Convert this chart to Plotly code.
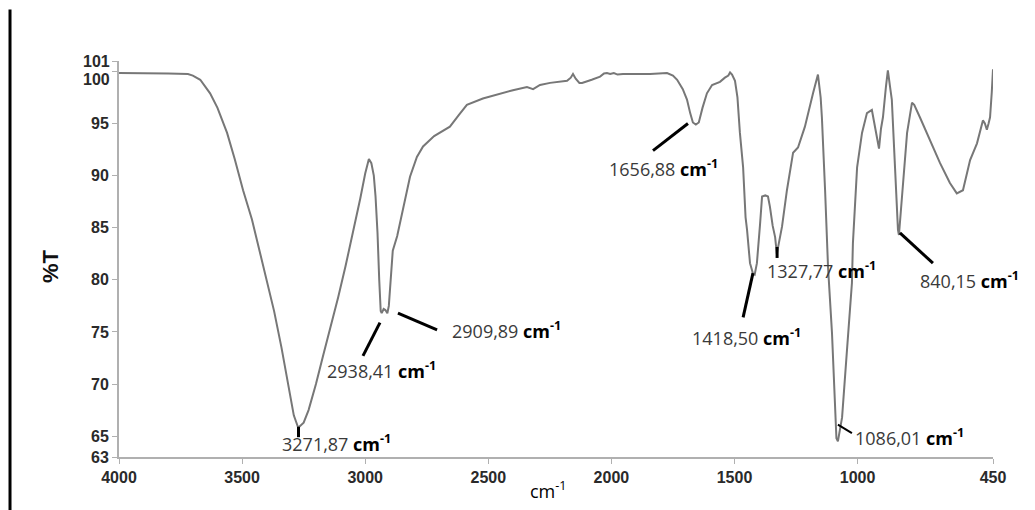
import plotly.graph_objects as go

# ---- data ----
wavenumber = [4000, 3850, 3800, 3720, 3700, 3670, 3630, 3600, 3561, 3530, 3496, 3460, 3427, 3400,
              3370, 3340, 3310, 3290, 3272, 3250, 3230, 3200, 3170, 3140, 3110, 3080, 3050, 3020,
              3000, 2985, 2975, 2965, 2958, 2950, 2943, 2937, 2933, 2925, 2918, 2910, 2904, 2897,
              2888, 2870, 2846, 2818, 2790, 2765, 2720, 2656, 2620, 2587, 2522, 2452, 2400, 2343,
              2318, 2290, 2249, 2180, 2165, 2156, 2145, 2130, 2119, 2080, 2046, 2030, 2018, 2005,
              1990, 1975, 1953, 1843, 1774, 1750, 1733, 1710, 1693, 1680, 1669, 1657, 1645, 1630,
              1612, 1591, 1559, 1539, 1525, 1518, 1510, 1498, 1488, 1478, 1470, 1465, 1455, 1449,
              1437, 1425, 1418, 1409, 1396, 1388, 1375, 1364, 1356, 1345, 1335, 1328, 1320, 1307,
              1287, 1262, 1242, 1214, 1181, 1161, 1150, 1145, 1132, 1120, 1104, 1092, 1086, 1080,
              1070, 1063, 1043, 1023, 1019, 1002, 982, 962, 942, 930, 918, 913, 905, 897, 885, 877,
              868, 861, 848, 840, 836, 832, 825, 816, 799, 779, 770, 747, 706, 665, 625, 597, 572,
              543, 515, 491, 483, 475, 468, 462, 455, 450]
transmittance = [99.85, 99.85, 99.8, 99.75, 99.6, 99.2, 97.9, 96.5, 94.1, 91.6, 88.6, 85.8, 82.5, 80.0,
                 77.0, 73.5, 69.5, 67.0, 65.8, 66.3, 67.5, 70.0, 72.8, 75.5, 78.3, 81.3, 84.5, 87.8,
                 90.2, 91.6, 91.2, 90.0, 88.0, 84.5, 80.0, 77.0, 76.8, 77.2, 77.1, 76.8, 77.5, 80.0,
                 82.8, 84.2, 86.7, 89.9, 91.8, 92.8, 93.8, 94.7, 95.8, 96.8, 97.4, 97.9, 98.2, 98.5,
                 98.3, 98.7, 98.9, 99.1, 99.4, 99.75, 99.3, 98.9, 98.9, 99.2, 99.5, 99.8, 99.85, 99.75,
                 99.85, 99.7, 99.75, 99.75, 99.85, 99.6, 99.2, 98.3, 97.3, 96.0, 95.1, 94.9, 95.1, 96.5,
                 97.9, 98.7, 99.0, 99.4, 99.6, 99.9, 99.7, 99.1, 97.5, 94.1, 92.0, 90.8, 86.0, 84.8,
                 81.6, 80.6, 80.5, 81.6, 85.4, 88.0, 88.1, 88.0, 87.0, 85.2, 84.1, 82.5, 83.5, 85.1,
                 88.6, 92.2, 92.7, 94.7, 97.9, 99.7, 97.5, 95.6, 88.6, 81.2, 74.9, 68.5, 64.8, 64.5,
                 66.0, 66.8, 73.3, 79.7, 83.5, 90.8, 94.1, 96.0, 96.3, 94.7, 93.0, 92.6, 94.5, 95.6, 98.5, 100.1,
                 98.5, 97.3, 90.8, 85.5, 84.8, 84.3, 86.5, 89.3, 94.1, 97.0, 96.8, 95.6, 93.4, 91.2, 89.3, 88.3, 88.6,
                 91.5, 93.1, 95.3, 95.0, 94.4, 95.0, 95.6, 98.0, 100.2]

x_ticks = [4000, 3500, 3000, 2500, 2000, 1500, 1000, 450]
y_ticks = [63, 65, 70, 75, 80, 85, 90, 95, 100, 101]
# the two top labels are nudged apart in the original, drawn separately
y_top_labels = ["101", "100"]

# peak labels: text, text anchor (wn, T), leader start, leader end
peak_labels = ["3271,87", "2938,41", "2909,89", "1656,88", "1418,50", "1327,77", "840,15", "1086,01"]
label_pos = [(3346, 64.3), (3163, 71.35), (2656, 75.2), (2018, 90.7),
             (1681, 74.5), (1376, 80.9), (755, 80.0), (1019, 64.9)]
leader_from = [(3271, 65.9), (3009, 72.7), (2867, 76.8), (1831, 92.4),
               (1465, 76.4), (1327, 83.15), (828, 84.5), (1080, 66.1)]
leader_to = [(3271, 64.9), (2940, 75.9), (2708, 75.2), (1689, 95.0),
             (1425, 80.65), (1327, 82.1), (694, 81.6), (1023, 65.3)]

fig = go.Figure()
fig.add_trace(go.Scatter(x=wavenumber, y=transmittance, mode="lines",
                         line=dict(color="#777777", width=2), showlegend=False,
                         hoverinfo="skip"))

shapes = []
for i, (a, b) in enumerate(zip(leader_from, leader_to)):
    shapes.append(dict(type="line", xref="x", yref="y", x0=a[0], y0=a[1], x1=b[0], y1=b[1],
                       line=dict(color="black", width=2 if i == 7 else 3)))
# black vertical bar on the left of the page
shapes.append(dict(type="line", xref="paper", yref="paper", x0=-0.1247, x1=-0.1247,
                   y0=-0.2, y1=1.13, line=dict(color="black", width=3)))

tick_font = dict(family="Liberation Sans, Arial", size=16, color="#2a2a2a", weight="bold")

annotations = []
for txt, pos in zip(peak_labels, label_pos):
    annotations.append(dict(
        x=pos[0], y=pos[1], xref="x", yref="y", xanchor="left", yanchor="middle",
        text=f"<span style='color:#3a3a3a'>{txt}</span> <b>cm<sup>-1</sup></b>",
        showarrow=False, font=dict(family="Open Sans, Noto Sans, sans-serif", size=18, color="black")))
for txt, yp in zip(y_top_labels, [1.0, 0.9545]):
    annotations.append(dict(x=-0.008, y=yp, xref="paper", yref="paper", xanchor="right",
                            yanchor="middle", text=txt, showarrow=False, font=tick_font))
annotations.append(dict(x=-0.079, y=0.482, xref="paper", yref="paper", text="<b>%T</b>",
                        textangle=-90, showarrow=False, xanchor="center", yanchor="middle",
                        font=dict(family="Liberation Sans, Arial", size=22, color="#111")))
annotations.append(dict(x=0.491, y=-0.083, xref="paper", yref="paper", text="cm<sup>-1</sup>",
                        showarrow=False, xanchor="center", yanchor="middle",
                        font=dict(family="Open Sans, Noto Sans, sans-serif", size=18, color="black")))

fig.update_layout(
    width=1035, height=510,
    margin=dict(l=119, r=42, t=61, b=53),
    paper_bgcolor="white", plot_bgcolor="white",
    shapes=shapes, annotations=annotations,
    xaxis=dict(range=[4000, 450], tickvals=x_ticks, ticktext=[str(v) for v in x_ticks],
               showgrid=False, zeroline=False, showline=True, linecolor="#b0b0b0", linewidth=2,
               ticks="outside", ticklen=5, tickcolor="#b0b0b0", tickfont=tick_font),
    yaxis=dict(range=[63, 101], tickvals=y_ticks,
               ticktext=[("" if str(v) in y_top_labels else str(v)) for v in y_ticks],
               showgrid=False, zeroline=False, showline=True, linecolor="#b0b0b0", linewidth=2,
               ticks="outside", ticklen=5, tickcolor="#b0b0b0", tickfont=tick_font),
)

fig.write_html("out.html")
